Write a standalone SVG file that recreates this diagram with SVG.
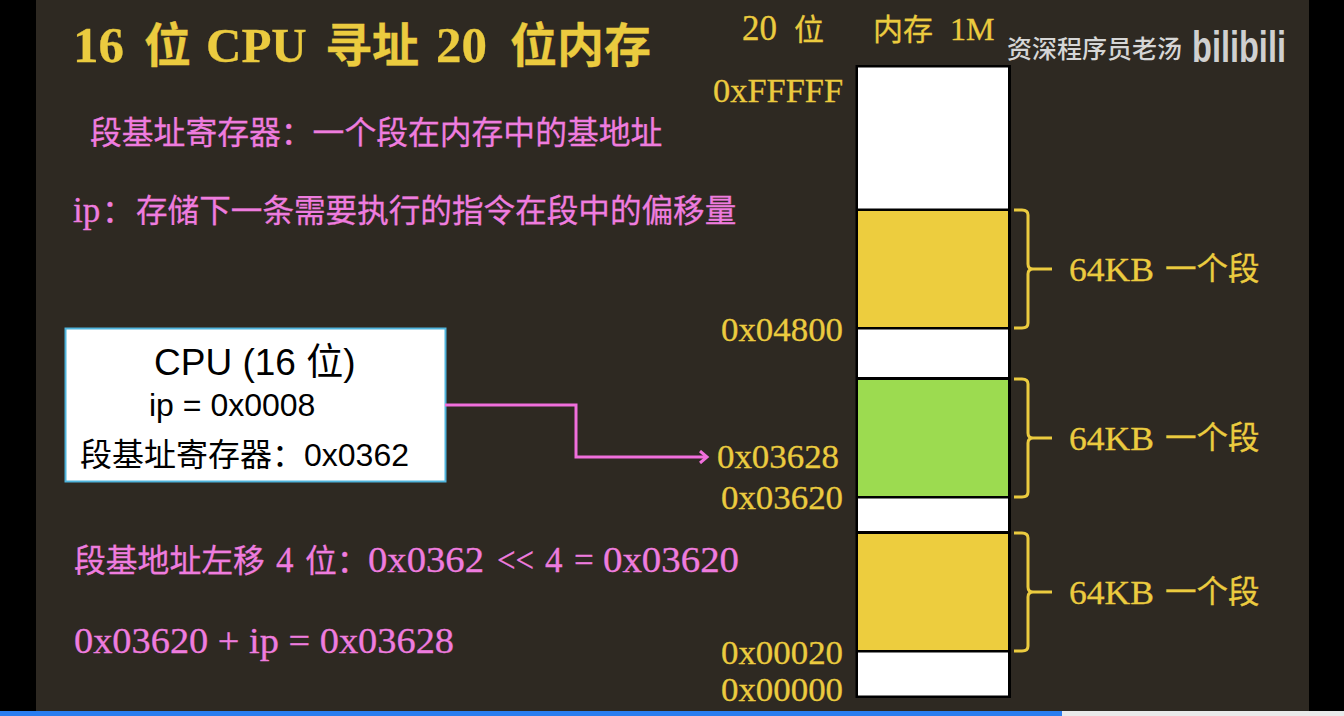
<svg xmlns="http://www.w3.org/2000/svg" width="1344" height="716" viewBox="0 0 1344 716">
<style>
text{font-family:"Liberation Serif","Noto Sans CJK SC",serif;white-space:pre}
.y{fill:#EBCB3F;stroke:#EBCB3F;stroke-width:.3}
.p{fill:#EE7CDF;stroke:#EE7CDF;stroke-width:.3}
.m{font-size:31.8px}
.l{font-size:35px}
.a{font-size:33px}
.c{font-size:31.5px}
.n{font-size:33px}
.k{fill:#000;font-family:"Liberation Sans","Noto Sans CJK SC",sans-serif;font-size:32px}
.br{fill:none;stroke:#EBCB3F;stroke-width:3}
</style>
<defs><marker id="arrow" markerUnits="userSpaceOnUse" markerWidth="14" markerHeight="14" refX="11" refY="7" orient="auto"><path d="M4 1L11 7L4 13" fill="none" stroke="#F06FDC" stroke-width="3"/></marker></defs>
<rect width="1344" height="716" fill="#000"/>
<rect x="36" y="0" width="1273" height="716" fill="#2E2922"/>
<rect x="0" y="711" width="1344" height="5" fill="#E9E9E9"/>
<rect x="0" y="711" width="1062" height="5" fill="#2A7DF0"/>
<g id="title" font-weight="bold">
<text y="62" class="y" font-size="47"><tspan x="73" font-size="51">16</tspan><tspan x="144">位</tspan><tspan x="206" font-size="49">CPU</tspan><tspan x="325">寻址</tspan><tspan x="436" font-size="51">20</tspan><tspan x="510">位内存</tspan></text>
</g>
<g id="notes">
<text x="90" y="144" class="p m">段基址寄存器：一个段在内存中的基地址</text>
<text y="222" class="p m"><tspan x="73" class="l">ip</tspan><tspan x="102">：</tspan><tspan x="136" style="font-size:31.6px">存储下一条需要执行的指令在段中的偏移量</tspan></text>
<text x="74" y="572" class="p m">段基地址左移</text>
<text x="276" y="572" class="p l">4</text>
<text x="305" y="572" class="p m">位：</text>
<text x="368" y="572" class="p l" textLength="116" lengthAdjust="spacingAndGlyphs">0x0362</text>
<text x="497" y="572" class="p l" textLength="37" lengthAdjust="spacingAndGlyphs">&lt;&lt;</text>
<text x="545" y="572" class="p l">4</text>
<text x="574" y="572" class="p l">=</text>
<text x="603" y="572" class="p l" textLength="136" lengthAdjust="spacingAndGlyphs">0x03620</text>
<text x="74" y="653" class="p l" textLength="380" lengthAdjust="spacingAndGlyphs">0x03620 + ip = 0x03628</text>
</g>
<g id="cpu">
<rect x="65.5" y="328.5" width="380" height="153" fill="#fff" stroke="#4FB4DC" stroke-width="2"/>
<text x="154" y="375" class="k" style="font-size:37px">CPU (16 位)</text>
<text x="149" y="416" class="k">ip = 0x0008</text>
<text x="80" y="466" class="k">段基址寄存器：0x0362</text>
</g>
<g id="connectors">
<path d="M445 405H576V457H707" fill="none" stroke="#F06FDC" stroke-width="3" marker-end="url(#arrow)"/>
</g>
<g id="memory-headers">
<text y="40" class="y"><tspan x="742" font-size="35">20</tspan><tspan x="794" font-size="30">位</tspan></text>
<text y="40" class="y"><tspan x="873" font-size="30">内存</tspan><tspan x="950" font-size="32">1M</tspan></text>
</g>
<g id="watermark">
<text x="1007" y="58" fill="#D6D6D6" style="font-family:'Noto Sans CJK SC',sans-serif;font-size:25px;font-weight:500">资深程序员老汤</text>
<text x="1192" y="62" fill="#D0D0D0" style="font-family:'Liberation Sans',sans-serif;font-size:44px;font-weight:bold" textLength="94" lengthAdjust="spacingAndGlyphs">bilibili</text>
</g>
<g id="memory">
<rect x="855.5" y="65" width="155.5" height="633" fill="#000"/>
<rect x="858" y="67.5" width="150" height="141" fill="#fff"/>
<rect x="858" y="211" width="150" height="116" fill="#EDCD3E"/>
<rect x="858" y="329.5" width="150" height="47.5" fill="#fff"/>
<rect x="858" y="380" width="150" height="116" fill="#9CDB50"/>
<rect x="858" y="498.5" width="150" height="32.5" fill="#fff"/>
<rect x="858" y="534" width="150" height="116" fill="#EDCD3E"/>
<rect x="858" y="652.5" width="150" height="43" fill="#fff"/>
</g>
<g id="addresses">
<text x="713" y="102" class="y a" textLength="130" lengthAdjust="spacingAndGlyphs">0xFFFFF</text>
<text x="721" y="341" class="y a" textLength="122" lengthAdjust="spacingAndGlyphs">0x04800</text>
<text x="717" y="468" class="y a" textLength="122" lengthAdjust="spacingAndGlyphs">0x03628</text>
<text x="721" y="509" class="y a" textLength="122" lengthAdjust="spacingAndGlyphs">0x03620</text>
<text x="721" y="664" class="y a" textLength="122" lengthAdjust="spacingAndGlyphs">0x00020</text>
<text x="721" y="701" class="y a" textLength="122" lengthAdjust="spacingAndGlyphs">0x00000</text>
</g>
<g id="brace-1"><path class="br" d="M1014 210H1022Q1028 210 1028 215V264Q1028 269 1033 269H1052M1033 269Q1028 269 1028 274V323Q1028 328 1022 328H1014"/><text x="1069" y="281" class="y n" textLength="85" lengthAdjust="spacingAndGlyphs">64KB</text><text x="1165" y="280" class="y c">一个段</text></g>
<g id="brace-2"><path class="br" d="M1014 379H1022Q1028 379 1028 384V433Q1028 438 1033 438H1052M1033 438Q1028 438 1028 443V492Q1028 497 1022 497H1014"/><text x="1069" y="450" class="y n" textLength="85" lengthAdjust="spacingAndGlyphs">64KB</text><text x="1165" y="449" class="y c">一个段</text></g>
<g id="brace-3"><path class="br" d="M1014 533H1022Q1028 533 1028 538V587Q1028 592 1033 592H1052M1033 592Q1028 592 1028 597V646Q1028 651 1022 651H1014"/><text x="1069" y="604" class="y n" textLength="85" lengthAdjust="spacingAndGlyphs">64KB</text><text x="1165" y="603" class="y c">一个段</text></g>
</svg>
